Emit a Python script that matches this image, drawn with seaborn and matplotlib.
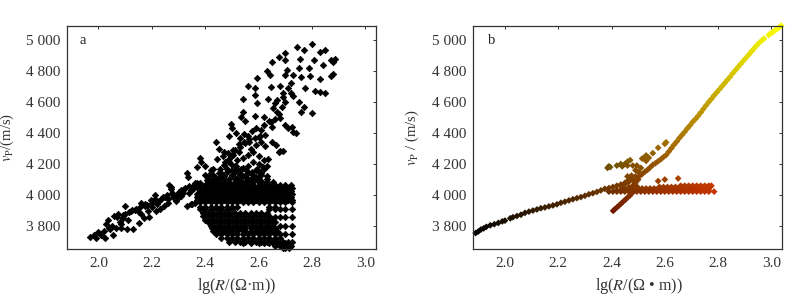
import matplotlib
matplotlib.use("Agg")
import matplotlib.pyplot as plt
import numpy as np
import pandas as pd
import seaborn as sns

# panel a: scattered upper arm
a_upper_x = [2.744, 2.80, 2.77, 2.70, 2.675, 2.85, 2.83, 2.885, 2.87, 2.88, 2.806, 2.756, 2.70, 2.65, 2.84, 2.79, 2.75,
             2.706, 2.631, 2.644, 2.88, 2.87, 2.83, 2.794, 2.76, 2.73, 2.70, 2.594, 2.56, 2.587, 2.646, 2.68, 2.72,
             2.775, 2.81, 2.83, 2.85, 2.54, 2.587, 2.594, 2.637, 2.69, 2.72, 2.75, 2.77, 2.80, 2.76, 2.66, 2.687,
             2.67, 2.54, 2.535, 2.55, 2.585, 2.62, 2.64, 2.66, 2.68, 2.70, 2.71, 2.74, 2.725, 2.73, 2.65, 2.61,
             2.59, 2.575, 2.56, 2.495, 2.50, 2.515, 2.53, 2.545, 2.49, 2.565, 2.60, 2.625, 2.65, 2.665, 2.68, 2.69,
             2.675, 2.625, 2.61, 2.59, 2.57, 2.55, 2.53, 2.51, 2.44, 2.45, 2.47, 2.50, 2.49, 2.52, 2.54, 2.56,
             2.58, 2.60, 2.62, 2.63, 2.62, 2.60, 2.58, 2.56, 2.535, 2.51, 2.49, 2.47, 2.455, 2.38, 2.385, 2.37,
             2.40, 2.42, 2.43, 2.45, 2.47, 2.48, 2.50, 2.52, 2.54, 2.57, 2.59, 2.61, 2.60, 2.58, 2.56, 2.54,
             2.52, 2.50, 2.485, 2.40, 2.41, 2.42, 2.44, 2.46, 2.53, 2.55, 2.57, 2.59, 2.61,
             2.71, 2.69, 2.67, 2.655, 2.73, 2.70, 2.675, 2.645, 2.62, 2.605, 2.585, 2.565, 2.545, 2.525, 2.505,
             2.485, 2.465, 2.445, 2.43, 2.475, 2.495, 2.515, 2.535, 2.555, 2.575, 2.595, 2.615, 2.635, 2.51, 2.53,
             2.55, 2.57, 2.48, 2.46, 2.505, 2.525, 2.59, 2.61, 2.63, 2.405, 2.415, 2.36]
a_upper_y = [4957, 4972, 4935, 4918, 4892, 4935, 4925, 4877, 4870, 4860, 4870, 4874, 4870, 4856, 4839, 4817, 4817,
             4806, 4802, 4775, 4780, 4768, 4750, 4768, 4760, 4775, 4775, 4753, 4700, 4690, 4695, 4703, 4720,
             4692, 4673, 4667, 4656, 4617, 4645, 4596, 4620, 4635, 4656, 4602, 4570, 4527, 4538, 4591, 4570,
             4538, 4538, 4500, 4480, 4510, 4500, 4480, 4490, 4495, 4450, 4430, 4400, 4440, 4405, 4440, 4420,
             4430, 4410, 4380, 4455, 4430, 4400, 4370, 4395, 4380, 4340, 4375, 4385, 4340, 4320, 4285, 4285,
             4275, 4315, 4345, 4320, 4300, 4335, 4310, 4290, 4340, 4300, 4280, 4260, 4235, 4225, 4240, 4260,
             4280, 4250, 4225, 4190, 4165, 4150, 4130, 4145, 4160, 4185, 4210, 4195, 4170, 4240, 4215, 4180,
             4190, 4160, 4130, 4145, 4120, 4170, 4130, 4110, 4125, 4100, 4115, 4130, 4200, 4215, 4190, 4175,
             4170, 4160, 4155, 4130, 4110, 4090, 4110, 4140, 4100, 4085, 4095, 4110, 4090,
             4690, 4660, 4610, 4560, 4640, 4600, 4520, 4470, 4450, 4380, 4370, 4360, 4345, 4330, 4290,
             4270, 4250, 4230, 4165, 4215, 4200, 4185, 4170, 4155, 4150, 4165, 4180, 4230, 4150, 4135,
             4125, 4105, 4150, 4125, 4260, 4275, 4160, 4140, 4125, 4100, 4130, 3950]

# panel a: sloping left tail
a_tail_x = [1.97, 1.985, 2.00, 1.99, 2.01, 2.02, 2.03, 2.04, 2.025, 2.055, 2.05, 2.07, 2.08, 2.09, 2.10, 2.085, 2.105,
            2.12, 2.13, 2.11, 2.14, 2.16, 2.15, 2.18, 2.17, 2.20, 2.19, 2.21, 2.225, 2.20, 2.23, 2.25, 2.245, 2.27,
            2.26, 2.28, 2.30, 2.29, 2.31, 2.33, 2.32, 2.34, 2.35, 2.36, 2.37, 2.38, 2.33, 2.345, 2.335, 2.265,
            2.27, 2.215, 2.16, 2.125, 2.10, 2.075, 2.065, 2.175, 2.24, 2.28, 2.31, 2.35, 2.37, 2.36, 2.34,
            2.035, 2.06, 2.09, 2.115, 2.135, 2.155, 2.175, 2.195, 2.21, 2.235, 2.255, 2.275, 2.295, 2.315, 2.325,
            2.345, 2.365, 2.15, 2.185, 2.22, 2.26, 2.30, 2.085, 2.045, 2.375, 2.355]
a_tail_y = [3730, 3745, 3760, 3725, 3740, 3770, 3815, 3790, 3720, 3740, 3800, 3860, 3825, 3850, 3880, 3790, 3780,
            3900, 3780, 3840, 3910, 3880, 3820, 3935, 3850, 3920, 3860, 4000, 3960, 3950, 3910, 3985, 3930, 4050,
            3975, 3990, 4020, 3960, 4030, 4140, 4040, 4060, 4050, 4075, 4080, 4075, 3930, 3945, 4115, 4065,
            4040, 3900, 3950, 3905, 3930, 3875, 3790, 3930, 3985, 4005, 3995, 3945, 4050, 4060, 4010,
            3840, 3865, 3870, 3890, 3905, 3925, 3945, 3965, 3975, 3975, 4000, 4010, 4000, 4015, 4045,
            4030, 4065, 3890, 3900, 3945, 3950, 3990, 3810, 3780, 4065, 4040]

# panel a: dense body, one list of x per row of vp
a_row_y = [4105, 4085, 4065, 4045, 4025, 4005, 3985, 3970, 3958, 3925, 3907, 3882, 3864, 3856, 3842, 3825,
           3803, 3785, 3765, 3748, 3725, 3700, 3688, 3670, 3656]
a_row_x = [
    [2.43, 2.45, 2.47, 2.49, 2.51, 2.56, 2.60, 2.63],
    [2.41, 2.43, 2.45, 2.47, 2.49, 2.51, 2.53, 2.56, 2.58, 2.60, 2.63, 2.655],
    [2.37, 2.40, 2.42, 2.44, 2.46, 2.48, 2.50, 2.52, 2.54, 2.56, 2.58, 2.60, 2.62, 2.64, 2.66, 2.68, 2.70, 2.72],
    [2.39, 2.41, 2.43, 2.45, 2.47, 2.49, 2.51, 2.53, 2.55, 2.57, 2.59, 2.61, 2.63, 2.65, 2.67, 2.69, 2.71, 2.725],
    [2.38, 2.40, 2.42, 2.44, 2.46, 2.48, 2.50, 2.52, 2.54, 2.56, 2.58, 2.60, 2.62, 2.64, 2.66, 2.68, 2.70, 2.72],
    [2.37, 2.39, 2.41, 2.43, 2.45, 2.47, 2.49, 2.51, 2.53, 2.55, 2.57, 2.59, 2.61, 2.63, 2.65, 2.67, 2.69, 2.71, 2.725],
    [2.37, 2.38, 2.40, 2.42, 2.44, 2.46, 2.48, 2.50, 2.52, 2.54, 2.56, 2.58, 2.60, 2.62, 2.64, 2.66, 2.68, 2.70, 2.72],
    [2.37, 2.39, 2.41, 2.43, 2.45, 2.47, 2.49, 2.51, 2.53, 2.55, 2.57, 2.59, 2.61, 2.63, 2.65, 2.67, 2.69, 2.71, 2.725],
    [2.38, 2.40, 2.42, 2.44, 2.46, 2.48, 2.50, 2.52, 2.54, 2.56, 2.58, 2.60, 2.62, 2.64, 2.66, 2.68, 2.70, 2.725],
    [2.38, 2.40, 2.42, 2.44, 2.46, 2.48, 2.50, 2.52, 2.64, 2.66],
    [2.38, 2.40, 2.42, 2.44, 2.46, 2.48, 2.50, 2.64, 2.66, 2.68, 2.70, 2.725],
    [2.39, 2.41, 2.43, 2.45, 2.47, 2.49, 2.51, 2.53, 2.55, 2.57, 2.59, 2.61, 2.63],
    [2.39, 2.40, 2.42, 2.44, 2.46, 2.48, 2.50, 2.52, 2.54, 2.56, 2.58, 2.60, 2.62, 2.64],
    [2.66, 2.68, 2.70, 2.725],
    [2.40, 2.41, 2.43, 2.45, 2.47, 2.49, 2.51, 2.53, 2.55, 2.57, 2.59, 2.61, 2.63, 2.65],
    [2.41, 2.42, 2.44, 2.46, 2.48, 2.50, 2.52, 2.54, 2.56, 2.58, 2.60, 2.62, 2.64, 2.66],
    [2.42, 2.43, 2.45, 2.47, 2.49, 2.51, 2.53, 2.55, 2.57, 2.59, 2.61, 2.63, 2.65, 2.68, 2.70, 2.725],
    [2.425, 2.44, 2.46, 2.48, 2.50, 2.52, 2.53, 2.55, 2.57, 2.59, 2.60, 2.62, 2.64, 2.66],
    [2.43, 2.45, 2.47, 2.49, 2.50, 2.52, 2.54, 2.55, 2.57, 2.59, 2.61, 2.63, 2.65, 2.67],
    [2.44, 2.46, 2.48, 2.50, 2.52, 2.54, 2.56, 2.58, 2.60, 2.62, 2.64, 2.66, 2.68, 2.70, 2.725],
    [2.46, 2.48, 2.50, 2.52, 2.54, 2.56, 2.58, 2.60, 2.62, 2.64, 2.66, 2.68],
    [2.49, 2.51, 2.53, 2.55, 2.57, 2.59, 2.61, 2.63, 2.65, 2.67, 2.69, 2.71, 2.725],
    [2.54, 2.57, 2.60, 2.62, 2.64, 2.66, 2.68, 2.70],
    [2.66, 2.68, 2.70, 2.72],
    [2.69, 2.70, 2.715],
]

# panel b: main curve
b_curve_x = [1.89, 1.90, 1.91, 1.92, 1.93, 1.945, 1.96, 1.975, 1.99, 2.00, 2.02, 2.03, 2.045, 2.06, 2.075, 2.09, 2.105,
             2.12, 2.135, 2.15, 2.165, 2.18, 2.195, 2.21, 2.225, 2.24, 2.255, 2.27, 2.285, 2.30, 2.315, 2.33, 2.345,
             2.36, 2.375, 2.39, 2.405, 2.42, 2.435, 2.45, 2.465, 2.48, 2.495, 2.505, 2.515, 2.525, 2.535, 2.545, 2.555,
             2.565, 2.575, 2.585, 2.595, 2.605, 2.615, 2.625, 2.635, 2.645, 2.655, 2.665, 2.675, 2.685, 2.695, 2.705,
             2.715, 2.725, 2.735, 2.745, 2.755, 2.765, 2.775, 2.785, 2.795, 2.805, 2.815, 2.825, 2.835, 2.845, 2.855,
             2.865, 2.875, 2.885, 2.895, 2.905, 2.915, 2.925, 2.935, 2.945, 2.955, 2.965, 2.972, 2.99, 2.998, 3.006,
             3.014, 3.022, 3.03, 3.037]
b_curve_y = [3755, 3765, 3778, 3785, 3795, 3805, 3812, 3820, 3830, 3835, 3850, 3857, 3865, 3873, 3885, 3893, 3900,
             3907, 3915, 3920, 3927, 3933, 3940, 3950, 3957, 3965, 3973, 3980, 3987, 3995, 4005, 4012, 4020,
             4030, 4040, 4045, 4052, 4060, 4068, 4078, 4085, 4095, 4110, 4122, 4135, 4150, 4162, 4178, 4195,
             4205, 4218, 4230, 4245, 4258, 4280, 4302, 4325, 4345, 4368, 4388, 4408, 4430, 4450, 4472,
             4490, 4510, 4532, 4555, 4578, 4600, 4620, 4642, 4662, 4682, 4702, 4722, 4742, 4762, 4785,
             4805, 4825, 4845, 4865, 4885, 4905, 4925, 4945, 4965, 4982, 4998, 5008, 5032, 5042, 5052,
             5062, 5072, 5082, 5092]

# panel b: flat wedge, one list of x per row of vp
b_row_y = [4060, 4052, 4042, 4032, 4022]
b_row_x = [
    [2.66, 2.675, 2.69, 2.705, 2.72, 2.735, 2.75, 2.765, 2.775],
    [2.58, 2.595, 2.61, 2.625, 2.64, 2.655, 2.67, 2.685, 2.70, 2.715, 2.73, 2.745, 2.76, 2.77],
    [2.50, 2.515, 2.53, 2.545, 2.56, 2.575, 2.59, 2.605, 2.62, 2.635, 2.65, 2.665, 2.68, 2.695, 2.71, 2.725, 2.74,
     2.755, 2.765],
    [2.42, 2.435, 2.45, 2.465, 2.48, 2.495, 2.51, 2.525, 2.54, 2.555, 2.57, 2.585, 2.60, 2.615, 2.63, 2.645, 2.66,
     2.675, 2.69, 2.705, 2.72, 2.735, 2.75, 2.765],
    [2.39, 2.405, 2.42, 2.435, 2.45, 2.465, 2.48, 2.495, 2.51, 2.525, 2.54, 2.555, 2.57, 2.585, 2.60, 2.615, 2.63,
     2.645, 2.66, 2.675, 2.69, 2.705, 2.72, 2.735, 2.75, 2.765, 2.785],
]

# panel b: lower tail, olive cluster, stray points and the thick part by the crossing
b_extra_x = [2.406, 2.412, 2.42, 2.428, 2.436, 2.444, 2.452, 2.46, 2.468, 2.476,
             2.385, 2.395, 2.39, 2.42, 2.435, 2.44, 2.45, 2.46, 2.47, 2.48, 2.46, 2.49, 2.495, 2.50, 2.51, 2.515,
             2.525, 2.53, 2.53, 2.54, 2.555, 2.575, 2.60, 2.605,
             2.575, 2.60, 2.65,
             2.44, 2.45, 2.46, 2.47, 2.48, 2.49, 2.50, 2.45, 2.465, 2.48, 2.495, 2.46, 2.475, 2.49]
b_extra_y = [3898, 3908, 3920, 3932, 3945, 3958, 3970, 3983, 3995, 4010,
             4175, 4180, 4185, 4190, 4200, 4185, 4200, 4215, 4225, 4190, 4190, 4160, 4190, 4150, 4175, 4235,
             4245, 4220, 4255, 4240, 4270, 4305, 4330, 4340,
             4090, 4100, 4107,
             4050, 4070, 4090, 4110, 4060, 4080, 4100, 4035, 4050, 4040, 4055, 4120, 4125, 4120]

YTICKS = [3800, 4000, 4200, 4400, 4600, 4800, 5000]
YTICK_LABELS = ["3 800", "4 000", "4 200", "4 400", "4 600", "4 800", "5 000"]
XTICKS = [2.0, 2.2, 2.4, 2.6, 2.8, 3.0]


def flatten_rows(rows_x, rows_y):
    xs, ys = [], []
    for row_x, y in zip(rows_x, rows_y):
        xs.extend(row_x)
        ys.extend([y] * len(row_x))
    return xs, ys


def point_colors(x, y):
    # red follows resistivity, green follows velocity
    red = np.clip((np.asarray(x) - 1.89) / 1.15, 0, 1)
    green = np.clip((np.asarray(y) - 3760) / 1330, 0, 1)
    return np.column_stack([red, green, np.zeros(len(red))])


def style_axes(ax, left, letter, letter_x, xlabel, xlabel_x, ylabel, ylabel_pad):
    ax.set_xlim(left, 3.04)
    ax.set_ylim(3652, 5090)
    ax.set_xticks(XTICKS)
    ax.set_xticklabels([f"{t:.1f}" for t in XTICKS])
    ax.set_yticks(YTICKS)
    ax.set_yticklabels(YTICK_LABELS)
    ax.tick_params(direction="in", length=2.5, width=0.7, top=True, right=True,
                   labelsize=11, colors="#333333", pad=5)
    ax.tick_params(axis="x", pad=6)
    for spine in ax.spines.values():
        spine.set_color("#333333")
        spine.set_linewidth(0.9)
    ax.set_xlabel(xlabel, fontsize=11.6, color="#333333", labelpad=4, x=xlabel_x)
    ax.set_ylabel(ylabel, fontsize=10.5, color="#333333", labelpad=ylabel_pad)
    ax.text(letter_x, 0.935, letter, transform=ax.transAxes, fontsize=10.5, color="#222222", va="center")
    ax.grid(False)


sns.set_theme(style="white")
plt.rcParams["font.family"] = ["Liberation Serif", "DejaVu Serif"]
plt.rcParams["mathtext.fontset"] = "stix"

fig = plt.figure(figsize=(8, 2.96), dpi=100)
ax_a = fig.add_axes([67 / 800, 1 - 249 / 296, 309 / 800, 223 / 296])
ax_b = fig.add_axes([473 / 800, 1 - 249 / 296, 309 / 800, 223 / 296])

row_x, row_y = flatten_rows(a_row_x, a_row_y)
df_a = pd.DataFrame({"x": a_upper_x + a_tail_x + row_x, "y": a_upper_y + a_tail_y + row_y})
sns.scatterplot(data=df_a, x="x", y="y", ax=ax_a, marker="D", s=11, color="black", linewidth=0.5,
                edgecolor="black", clip_on=False)

row_x, row_y = flatten_rows(b_row_x, b_row_y)
df_b = pd.DataFrame({"x": b_curve_x + row_x + b_extra_x, "y": b_curve_y + row_y + b_extra_y})
sns.scatterplot(data=df_b, x="x", y="y", ax=ax_b, marker="D", s=12, linewidth=0,
                c=point_colors(df_b["x"], df_b["y"]), clip_on=False)

style_axes(ax_a, 1.882, "a", 0.04, r"lg($\mathit{R}$/(Ω·m))", 0.55, r"$\mathit{v}_{\mathrm{P}}$/(m/s)", 7)
style_axes(ax_b, 1.88, "b", 0.05, r"lg($\mathit{R}$/(Ω • m))", 0.537, r"$\mathit{v}_{\mathrm{P}}$ / (m/s)", 8)

fig.savefig("out.png", dpi=100)
